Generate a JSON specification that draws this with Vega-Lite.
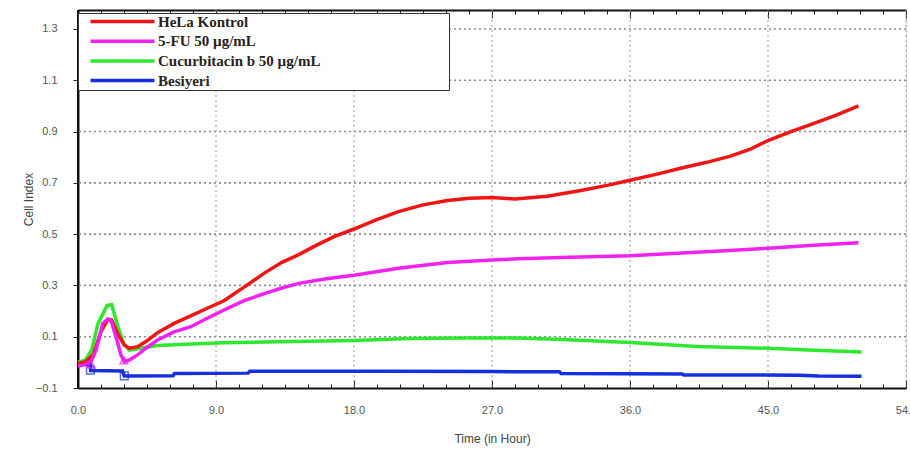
{
  "$schema": "https://vega.github.io/schema/vega-lite/v6.json",
  "width": 828,
  "height": 378,
  "autosize": {"type": "none"},
  "padding": {"left": 78, "top": 10, "right": 4, "bottom": 75},
  "background": "white",
  "config": {
    "axis": {"labelFont": "Liberation Sans", "titleFont": "Liberation Sans", "labelColor": "#555555", "titleColor": "#444444", "labelFontSize": 11, "titleFontSize": 12, "titleFontWeight": "normal", "domainColor": "#111111", "tickColor": "#222222", "labelOverlap": false, "labelFlush": false}
  },
  "datasets": {
    "hgrid": [{"gy": 0.1}, {"gy": 0.3}, {"gy": 0.5}, {"gy": 0.7}, {"gy": 0.9}, {"gy": 1.1}, {"gy": 1.3}],
    "vgrid": [{"gx": 9}, {"gx": 18}, {"gx": 27}, {"gx": 36}, {"gx": 45}, {"gx": 54}],
    "yaxisline": [{"gx": 0}],
    "lines": [
      {"s": "Besiyeri", "t": 0, "v": -0.006}, {"s": "Besiyeri", "t": 0.8, "v": -0.008}, {"s": "Besiyeri", "t": 0.82, "v": -0.032}, {"s": "Besiyeri", "t": 2.9, "v": -0.034}, {"s": "Besiyeri", "t": 3.02, "v": -0.053}, {"s": "Besiyeri", "t": 6.2, "v": -0.052}, {"s": "Besiyeri", "t": 6.3, "v": -0.043}, {"s": "Besiyeri", "t": 11.1, "v": -0.042}, {"s": "Besiyeri", "t": 11.2, "v": -0.035}, {"s": "Besiyeri", "t": 20, "v": -0.035}, {"s": "Besiyeri", "t": 27, "v": -0.036}, {"s": "Besiyeri", "t": 31.4, "v": -0.037}, {"s": "Besiyeri", "t": 31.5, "v": -0.043}, {"s": "Besiyeri", "t": 39.4, "v": -0.045}, {"s": "Besiyeri", "t": 39.5, "v": -0.049}, {"s": "Besiyeri", "t": 47, "v": -0.05}, {"s": "Besiyeri", "t": 48.3, "v": -0.053}, {"s": "Besiyeri", "t": 51.1, "v": -0.054},
      {"s": "Cucurbitacin b 50 µg/mL", "t": 0, "v": 0.0}, {"s": "Cucurbitacin b 50 µg/mL", "t": 0.5, "v": 0.01}, {"s": "Cucurbitacin b 50 µg/mL", "t": 0.9, "v": 0.05}, {"s": "Cucurbitacin b 50 µg/mL", "t": 1.3, "v": 0.15}, {"s": "Cucurbitacin b 50 µg/mL", "t": 1.9, "v": 0.222}, {"s": "Cucurbitacin b 50 µg/mL", "t": 2.2, "v": 0.225}, {"s": "Cucurbitacin b 50 µg/mL", "t": 2.6, "v": 0.14}, {"s": "Cucurbitacin b 50 µg/mL", "t": 3.0, "v": 0.07}, {"s": "Cucurbitacin b 50 µg/mL", "t": 3.35, "v": 0.048}, {"s": "Cucurbitacin b 50 µg/mL", "t": 4.1, "v": 0.055}, {"s": "Cucurbitacin b 50 µg/mL", "t": 5.2, "v": 0.066}, {"s": "Cucurbitacin b 50 µg/mL", "t": 7.4, "v": 0.072}, {"s": "Cucurbitacin b 50 µg/mL", "t": 9.5, "v": 0.076}, {"s": "Cucurbitacin b 50 µg/mL", "t": 13, "v": 0.08}, {"s": "Cucurbitacin b 50 µg/mL", "t": 18, "v": 0.085}, {"s": "Cucurbitacin b 50 µg/mL", "t": 21.6, "v": 0.093}, {"s": "Cucurbitacin b 50 µg/mL", "t": 25, "v": 0.095}, {"s": "Cucurbitacin b 50 µg/mL", "t": 28.7, "v": 0.095}, {"s": "Cucurbitacin b 50 µg/mL", "t": 32, "v": 0.088}, {"s": "Cucurbitacin b 50 µg/mL", "t": 36, "v": 0.077}, {"s": "Cucurbitacin b 50 µg/mL", "t": 40.4, "v": 0.062}, {"s": "Cucurbitacin b 50 µg/mL", "t": 45, "v": 0.055}, {"s": "Cucurbitacin b 50 µg/mL", "t": 48, "v": 0.047}, {"s": "Cucurbitacin b 50 µg/mL", "t": 51.1, "v": 0.04},
      {"s": "HeLa Kontrol", "t": 0, "v": -0.005}, {"s": "HeLa Kontrol", "t": 0.5, "v": 0.003}, {"s": "HeLa Kontrol", "t": 1.0, "v": 0.03}, {"s": "HeLa Kontrol", "t": 1.5, "v": 0.12}, {"s": "HeLa Kontrol", "t": 1.95, "v": 0.168}, {"s": "HeLa Kontrol", "t": 2.2, "v": 0.165}, {"s": "HeLa Kontrol", "t": 2.6, "v": 0.11}, {"s": "HeLa Kontrol", "t": 3.02, "v": 0.068}, {"s": "HeLa Kontrol", "t": 3.35, "v": 0.055}, {"s": "HeLa Kontrol", "t": 3.9, "v": 0.061}, {"s": "HeLa Kontrol", "t": 4.43, "v": 0.081}, {"s": "HeLa Kontrol", "t": 5.19, "v": 0.116}, {"s": "HeLa Kontrol", "t": 6.27, "v": 0.152}, {"s": "HeLa Kontrol", "t": 7.35, "v": 0.181}, {"s": "HeLa Kontrol", "t": 8.43, "v": 0.211}, {"s": "HeLa Kontrol", "t": 9.52, "v": 0.24}, {"s": "HeLa Kontrol", "t": 11.0, "v": 0.3}, {"s": "HeLa Kontrol", "t": 12.2, "v": 0.35}, {"s": "HeLa Kontrol", "t": 13.3, "v": 0.39}, {"s": "HeLa Kontrol", "t": 14.4, "v": 0.42}, {"s": "HeLa Kontrol", "t": 15.5, "v": 0.455}, {"s": "HeLa Kontrol", "t": 16.7, "v": 0.49}, {"s": "HeLa Kontrol", "t": 18.0, "v": 0.52}, {"s": "HeLa Kontrol", "t": 19.4, "v": 0.555}, {"s": "HeLa Kontrol", "t": 20.9, "v": 0.588}, {"s": "HeLa Kontrol", "t": 22.5, "v": 0.614}, {"s": "HeLa Kontrol", "t": 24.1, "v": 0.631}, {"s": "HeLa Kontrol", "t": 25.5, "v": 0.64}, {"s": "HeLa Kontrol", "t": 27.0, "v": 0.643}, {"s": "HeLa Kontrol", "t": 28.5, "v": 0.637}, {"s": "HeLa Kontrol", "t": 30.6, "v": 0.648}, {"s": "HeLa Kontrol", "t": 32.8, "v": 0.67}, {"s": "HeLa Kontrol", "t": 34.5, "v": 0.69}, {"s": "HeLa Kontrol", "t": 36.0, "v": 0.71}, {"s": "HeLa Kontrol", "t": 37.7, "v": 0.733}, {"s": "HeLa Kontrol", "t": 39.3, "v": 0.757}, {"s": "HeLa Kontrol", "t": 41.0, "v": 0.78}, {"s": "HeLa Kontrol", "t": 42.5, "v": 0.803}, {"s": "HeLa Kontrol", "t": 43.8, "v": 0.83}, {"s": "HeLa Kontrol", "t": 45.0, "v": 0.865}, {"s": "HeLa Kontrol", "t": 46.5, "v": 0.9}, {"s": "HeLa Kontrol", "t": 48.0, "v": 0.932}, {"s": "HeLa Kontrol", "t": 49.5, "v": 0.965}, {"s": "HeLa Kontrol", "t": 50.9, "v": 1.0},
      {"s": "5-FU 50 µg/mL", "t": 0, "v": -0.014}, {"s": "5-FU 50 µg/mL", "t": 0.42, "v": -0.01}, {"s": "5-FU 50 µg/mL", "t": 0.86, "v": 0.003}, {"s": "5-FU 50 µg/mL", "t": 1.18, "v": 0.048}, {"s": "5-FU 50 µg/mL", "t": 1.61, "v": 0.152}, {"s": "5-FU 50 µg/mL", "t": 1.94, "v": 0.168}, {"s": "5-FU 50 µg/mL", "t": 2.15, "v": 0.163}, {"s": "5-FU 50 µg/mL", "t": 2.48, "v": 0.1}, {"s": "5-FU 50 µg/mL", "t": 2.8, "v": 0.029}, {"s": "5-FU 50 µg/mL", "t": 3.02, "v": 0.003}, {"s": "5-FU 50 µg/mL", "t": 3.35, "v": 0.009}, {"s": "5-FU 50 µg/mL", "t": 3.89, "v": 0.029}, {"s": "5-FU 50 µg/mL", "t": 4.43, "v": 0.055}, {"s": "5-FU 50 µg/mL", "t": 5.19, "v": 0.087}, {"s": "5-FU 50 µg/mL", "t": 6.27, "v": 0.119}, {"s": "5-FU 50 µg/mL", "t": 7.35, "v": 0.139}, {"s": "5-FU 50 µg/mL", "t": 8.43, "v": 0.172}, {"s": "5-FU 50 µg/mL", "t": 9.52, "v": 0.204}, {"s": "5-FU 50 µg/mL", "t": 10.8, "v": 0.24}, {"s": "5-FU 50 µg/mL", "t": 12.2, "v": 0.269}, {"s": "5-FU 50 µg/mL", "t": 13.3, "v": 0.29}, {"s": "5-FU 50 µg/mL", "t": 14.4, "v": 0.308}, {"s": "5-FU 50 µg/mL", "t": 16.2, "v": 0.326}, {"s": "5-FU 50 µg/mL", "t": 18.0, "v": 0.34}, {"s": "5-FU 50 µg/mL", "t": 20.9, "v": 0.367}, {"s": "5-FU 50 µg/mL", "t": 24.1, "v": 0.389}, {"s": "5-FU 50 µg/mL", "t": 27.0, "v": 0.399}, {"s": "5-FU 50 µg/mL", "t": 28.7, "v": 0.404}, {"s": "5-FU 50 µg/mL", "t": 31.5, "v": 0.409}, {"s": "5-FU 50 µg/mL", "t": 34.0, "v": 0.413}, {"s": "5-FU 50 µg/mL", "t": 36.0, "v": 0.416}, {"s": "5-FU 50 µg/mL", "t": 40.0, "v": 0.428}, {"s": "5-FU 50 µg/mL", "t": 42.5, "v": 0.436}, {"s": "5-FU 50 µg/mL", "t": 45.0, "v": 0.445}, {"s": "5-FU 50 µg/mL", "t": 48.0, "v": 0.457}, {"s": "5-FU 50 µg/mL", "t": 50.9, "v": 0.466}
    ],
    "marks": [
      {"s": "Besiyeri", "t": 0.81, "v": -0.03}, {"s": "Besiyeri", "t": 3.02, "v": -0.053},
      {"s": "5-FU 50 µg/mL", "t": 0.85, "v": -0.008}, {"s": "5-FU 50 µg/mL", "t": 3.0, "v": 0.008}
    ]
  },
  "layer": [
    {
      "data": {"name": "hgrid"},
      "mark": {"type": "rule", "color": "#8a8a8a", "strokeWidth": 1.6, "strokeDash": [2, 3]},
      "encoding": {
        "y": {"field": "gy", "type": "quantitative", "axis": null}
      }
    },
    {
      "data": {"name": "vgrid"},
      "mark": {"type": "rule", "color": "#9a9a9a", "strokeWidth": 1, "strokeDash": [2, 3]},
      "encoding": {
        "x": {"field": "gx", "type": "quantitative", "axis": null}
      }
    },
    {
      "data": {"name": "yaxisline"},
      "mark": {"type": "rule", "color": "#111111", "strokeWidth": 2},
      "encoding": {
        "x": {"field": "gx", "type": "quantitative", "axis": null}
      }
    },
    {
      "data": {"name": "lines"},
      "mark": {"type": "line"},
      "encoding": {
        "x": {"field": "t", "type": "quantitative", "title": "Time (in Hour)",
          "scale": {"domain": [0, 54], "nice": false, "zero": false},
          "axis": {"orient": "bottom", "values": [0, 9, 18, 27, 36, 45, 54], "format": ".1f",
            "tickSize": -8, "labelPadding": 24, "titlePadding": 18,
            "grid": false, "domainWidth": 2}
        },
        "y": {"field": "v", "type": "quantitative", "title": "Cell Index",
          "scale": {"domain": [-0.1, 1.374], "nice": false, "zero": false},
          "axis": {"orient": "left", "values": [-0.1, 0.1, 0.3, 0.5, 0.7, 0.9, 1.1, 1.3], "format": ".1f",
            "tickSize": 5, "labelPadding": 16, "titlePadding": 0,
            "grid": false, "domainWidth": 2}
        },
        "color": {"field": "s", "type": "nominal",
          "scale": {"domain": ["HeLa Kontrol", "5-FU 50 µg/mL", "Cucurbitacin b 50 µg/mL", "Besiyeri"], "range": ["#f01414", "#f022f0", "#2ee82e", "#1630e0"]},
          "legend": {"title": null, "orient": "none", "legendX": 0, "legendY": 3, "padding": 1,
            "fillColor": "white", "strokeColor": "#333333",
            "symbolType": "M-8,0H8", "symbolSize": 64, "symbolStrokeWidth": 3, "symbolOffset": 36,
            "labelFont": "Liberation Serif", "labelFontWeight": "bold", "labelFontSize": 15, "labelColor": "#2a2222",
            "labelOffset": 28, "rowPadding": 3.7, "labelLimit": 600,
            "labelExpr": "datum.label + '\u00a0\u00a0\u00a0\u00a0\u00a0\u00a0\u00a0\u00a0\u00a0\u00a0\u00a0\u00a0\u00a0\u00a0\u00a0\u00a0\u00a0\u00a0\u00a0\u00a0\u00a0\u00a0\u00a0\u00a0\u00a0\u00a0\u00a0\u00a0\u00a0\u00a0\u00a0\u00a0\u00a0\u00a0\u200b'"}
        },
        "strokeWidth": {"field": "s", "type": "nominal", "scale": {"domain": ["HeLa Kontrol", "5-FU 50 µg/mL", "Cucurbitacin b 50 µg/mL", "Besiyeri"], "range": [3.5, 3.5, 3.5, 5]}, "legend": null}
      }
    },
    {
      "data": {"name": "marks"},
      "mark": {"type": "point", "filled": false, "size": 60, "strokeWidth": 1.5},
      "encoding": {
        "x": {"field": "t", "type": "quantitative",
          "axis": {"orient": "top", "title": null, "labels": false, "grid": false, "values": [0, 9, 18, 27, 36, 45, 54], "tickSize": -8, "domainWidth": 2}
        },
        "y": {"field": "v", "type": "quantitative", "axis": null},
        "color": {"field": "s", "type": "nominal", "legend": null},
        "shape": {"field": "s", "type": "nominal", "scale": {"domain": ["Besiyeri", "5-FU 50 µg/mL"], "range": ["square", "triangle-up"]}, "legend": null}
      }
    },
    {
      "data": {"name": "marks"},
      "mark": {"type": "point", "opacity": 0},
      "encoding": {
        "x": {"field": "t", "type": "quantitative",
          "axis": {"orient": "bottom", "title": null, "labels": false, "grid": false, "domain": false, "tickSize": -4,
            "values": [1.5, 3, 4.5, 6, 7.5, 10.5, 12, 13.5, 15, 16.5, 19.5, 21, 22.5, 24, 25.5, 28.5, 30, 31.5, 33, 34.5, 37.5, 39, 40.5, 42, 43.5, 46.5, 48, 49.5, 51, 52.5]}
        },
        "y": {"field": "v", "type": "quantitative", "axis": null}
      }
    },
    {
      "data": {"name": "marks"},
      "mark": {"type": "point", "opacity": 0},
      "encoding": {
        "x": {"field": "t", "type": "quantitative",
          "axis": {"orient": "top", "title": null, "labels": false, "grid": false, "domain": false, "tickSize": -4,
            "values": [1.5, 3, 4.5, 6, 7.5, 10.5, 12, 13.5, 15, 16.5, 19.5, 21, 22.5, 24, 25.5, 28.5, 30, 31.5, 33, 34.5, 37.5, 39, 40.5, 42, 43.5, 46.5, 48, 49.5, 51, 52.5]}
        },
        "y": {"field": "v", "type": "quantitative", "axis": null}
      }
    }
  ],
  "resolve": {"axis": {"x": "independent", "y": "independent"}}
}
